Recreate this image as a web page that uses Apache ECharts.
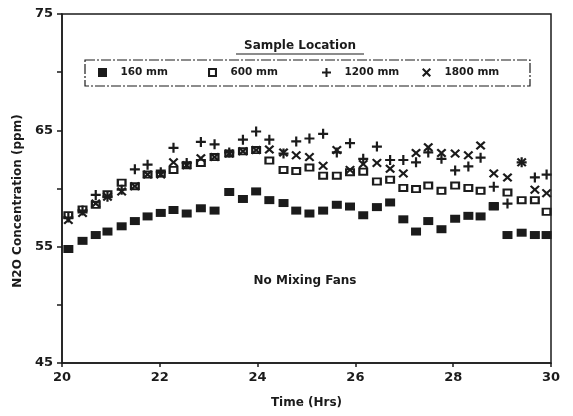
<!DOCTYPE html>
<html>
<head>
<meta charset="utf-8">
<script src="https://cdn.jsdelivr.net/npm/echarts@6/dist/echarts.min.js"></script>
<style>
html,body{margin:0;padding:0;background:#fff;}
#chart{width:573px;height:416px;}
</style>
</head>
<body>
<div id="chart"></div>
<script>
// Time (hours) of each sample
const time = [20.13, 20.42, 20.69, 20.93, 21.22, 21.49, 21.75, 22.02, 22.28, 22.55, 22.84, 23.12, 23.42, 23.70, 23.97, 24.24, 24.53, 24.79, 25.06, 25.34, 25.62, 25.89, 26.16, 26.44, 26.71, 26.98, 27.24, 27.49, 27.76, 28.04, 28.31, 28.56, 28.83, 29.11, 29.40, 29.67, 29.91];
// N2O concentration (ppm) at each sample location
const s160 = [54.8, 55.5, 56.0, 56.3, 56.75, 57.2, 57.6, 57.9, 58.15, 57.85, 58.3, 58.1, 59.7, 59.1, 59.75, 59.0, 58.75, 58.1, 57.85, 58.1, 58.6, 58.45, 57.7, 58.4, 58.8, 57.35, 56.3, 57.2, 56.5, 57.4, 57.65, 57.6, 58.45, 56.0, 56.2, 56.0, 56.0];
const s600 = [57.7, 58.2, 58.6, 59.5, 60.5, 60.2, 61.2, 61.3, 61.6, 62.0, 62.2, 62.7, 63.0, 63.2, 63.3, 62.4, 61.6, 61.5, 61.8, 61.1, 61.1, 61.4, 61.45, 60.6, 60.75, 60.05, 59.95, 60.25, 59.8, 60.25, 60.05, 59.8, 58.5, 59.65, 59.0, 59.0, 58.0];
const s1200 = [57.5, 58.1, 59.45, 59.3, 59.9, 61.65, 62.05, 61.4, 63.5, 62.2, 64.0, 63.8, 63.1, 64.2, 64.9, 64.2, 63.0, 64.05, 64.3, 64.7, 63.1, 63.9, 62.55, 63.6, 62.45, 62.45, 62.25, 63.1, 62.55, 61.55, 61.9, 62.65, 60.15, 58.7, 62.25, 60.95, 61.2];
const s1800 = [57.3, 57.9, 58.7, 59.3, 59.75, 60.2, 61.2, 61.2, 62.25, 62.0, 62.6, 62.7, 63.0, 63.2, 63.3, 63.35, 63.1, 62.85, 62.7, 61.95, 63.3, 61.6, 62.1, 62.2, 61.7, 61.3, 63.05, 63.55, 63.05, 63.0, 62.85, 63.7, 61.3, 60.95, 62.25, 59.9, 59.6];
const seriesNames = ['160 mm', '600 mm', '1200 mm', '1800 mm'];
const xTicks = [20, 22, 24, 26, 28, 30];
const yTickLabels = [45, 55, 65, 75];

const INK = '#1b1b1b';
const FONT = 'DejaVu Sans';
const SYM = {
  filled: 'path://M0,0H10V10H0Z',
  open: 'path://M0,0H10V10H0ZM2.3,2.3V7.7H7.7V2.3Z',
  plus: 'path://M3.9,0H6.1V3.9H10V6.1H6.1V10H3.9V6.1H0V3.9H3.9Z',
  cross: 'path://M0,1.6L1.6,0L5,3.4L8.4,0L10,1.6L6.6,5L10,8.4L8.4,10L5,6.6L1.6,10L0,8.4L3.4,5Z'
};
const symbols = [SYM.filled, SYM.open, SYM.plus, SYM.cross];
const sizes = [[10, 8], [10, 8], [10, 10], [10, 9]];
const values = [s160, s600, s1200, s1800];

const chart = echarts.init(document.getElementById('chart'), null, {renderer: 'canvas'});

const legendLeft = [98, 208, 322, 422];
const option = {
  backgroundColor: '#ffffff',
  animation: false,
  grid: {left: 62, right: 22, top: 14, bottom: 53, show: true, borderColor: INK, borderWidth: 1.5, backgroundColor: 'transparent'},
  xAxis: {
    type: 'value', min: 20, max: 30, interval: 2,
    name: 'Time (Hrs)', nameLocation: 'middle', nameGap: 34,
    nameTextStyle: {fontFamily: FONT, fontWeight: 'bold', fontSize: 12, color: INK},
    axisLine: {show: true, lineStyle: {color: INK, width: 1.5}},
    axisTick: {show: true, inside: false, length: 4, lineStyle: {color: INK, width: 1.5}},
    axisLabel: {fontFamily: FONT, fontWeight: 'bold', fontSize: 13, color: INK, margin: 8,
      formatter: v => xTicks.indexOf(v) >= 0 ? String(v) : ''},
    splitLine: {show: false}
  },
  yAxis: {
    type: 'value', min: 45, max: 75, interval: 5,
    axisLine: {show: true, lineStyle: {color: INK, width: 1.5}},
    axisTick: {show: true, inside: false, length: 5, lineStyle: {color: INK, width: 1.5}},
    axisLabel: {fontFamily: FONT, fontWeight: 'bold', fontSize: 13, color: INK, margin: 9,
      formatter: v => yTickLabels.indexOf(v) >= 0 ? String(v) : ''},
    splitLine: {show: false}
  },
  legend: seriesNames.map((n, i) => ({
    data: [n], left: legendLeft[i], top: 67, orient: 'horizontal',
    itemWidth: 10, itemHeight: 9, itemGap: 0, padding: 0,
    textStyle: {fontFamily: FONT, fontWeight: 'bold', fontSize: 10.5, color: INK, padding: [0, 0, 0, 8]}
  })),
  graphic: [
    {type: 'rect', shape: {x: 85, y: 60, width: 445, height: 26},
      style: {fill: 'none', stroke: INK, lineWidth: 1.2, lineDash: [10, 2, 2, 2]}, z: 1},
    {type: 'text', x: 300, y: 46, style: {text: 'Sample Location', fill: INK, font: 'bold 12px "DejaVu Sans"', textAlign: 'center', textVerticalAlign: 'middle'}},
    {type: 'line', shape: {x1: 236, y1: 54, x2: 364, y2: 54}, style: {stroke: INK, lineWidth: 1.2}},
    {type: 'text', x: 305, y: 281, style: {text: 'No Mixing Fans', fill: INK, font: 'bold 12px "DejaVu Sans"', textAlign: 'center', textVerticalAlign: 'middle'}},
    {type: 'text', x: 18, y: 201, rotation: Math.PI / 2, style: {text: 'N2O Concentration (ppm)', fill: INK, font: 'bold 12px "DejaVu Sans"', textAlign: 'center', textVerticalAlign: 'middle'}}
  ],
  series: seriesNames.map((n, i) => ({
    name: n, type: 'scatter',
    symbol: symbols[i], symbolSize: sizes[i],
    itemStyle: {color: INK, opacity: 1},
    data: time.map((t, k) => [t, values[i][k]])
  }))
};
chart.setOption(option);
</script>
</body>
</html>
